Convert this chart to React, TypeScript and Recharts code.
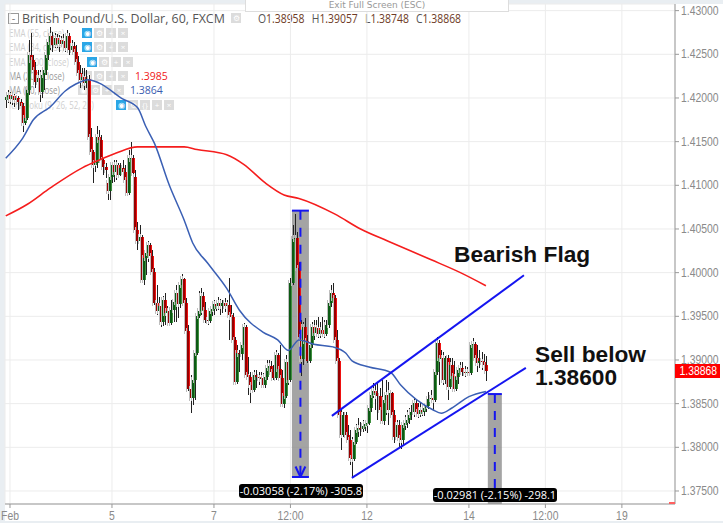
import { Bar, CartesianGrid, ComposedChart, Line, ReferenceArea, ReferenceLine, XAxis, YAxis } from 'recharts';

// hourly bars, first bar sits two hours before the "Feb" tick
const firstHour = -2;

const opens = [
  1.4198, 1.4201, 1.4203, 1.4199, 1.4202, 1.4198, 1.4200, 1.4195, 1.4191, 1.4171,
  1.4177, 1.4209, 1.4249, 1.4244, 1.4232, 1.4218, 1.4223, 1.4207, 1.4226, 1.4232,
  1.4249, 1.4264, 1.4271, 1.4261, 1.4269, 1.4262, 1.4266, 1.4262, 1.4265, 1.4257,
  1.4271, 1.4255, 1.4260, 1.4253, 1.4241, 1.4229, 1.4221, 1.4224, 1.4217, 1.4222,
  1.4155, 1.4138, 1.4123, 1.4126, 1.4155, 1.4152, 1.4129, 1.4121, 1.4103, 1.4094,
  1.4110, 1.4123, 1.4115, 1.4123, 1.4112, 1.4120, 1.4115, 1.4106, 1.4091, 1.4131,
  1.4131, 1.4110, 1.4049, 1.4036, 1.4041, 1.3992, 1.4017, 1.4023, 1.4032, 1.4019,
  1.4001, 1.3965, 1.3956, 1.3962, 1.3943, 1.3969, 1.3954, 1.3956, 1.3942, 1.3957,
  1.3966, 1.3977, 1.3964, 1.3986, 1.3993, 1.3965, 1.3933, 1.3867, 1.3856, 1.3877,
  1.3908, 1.3950, 1.3956, 1.3973, 1.3957, 1.3946, 1.3945, 1.3956, 1.3958, 1.3964,
  1.3962, 1.3965, 1.3962, 1.3965, 1.3962, 1.3963, 1.3951, 1.3949, 1.3923, 1.3875,
  1.3908, 1.3907, 1.3917, 1.3938, 1.3883, 1.3881, 1.3871, 1.3866, 1.3883, 1.3881,
  1.3879, 1.3879, 1.3871, 1.3881, 1.3891, 1.3893, 1.3886, 1.3879, 1.3906, 1.3890,
  1.3879, 1.3850, 1.3859, 1.3898, 1.3877, 1.3988, 1.4039, 1.4040, 1.4005, 1.3926,
  1.3901, 1.3938, 1.3922, 1.3899, 1.3917, 1.3938, 1.3931, 1.3937, 1.3930, 1.3934,
  1.3931, 1.3930, 1.3940, 1.3965, 1.3977, 1.3971, 1.3923, 1.3899, 1.3837, 1.3814,
  1.3837, 1.3814, 1.3808, 1.3788, 1.3787, 1.3806, 1.3820, 1.3822, 1.3821, 1.3824,
  1.3827, 1.3828, 1.3845, 1.3860, 1.3864, 1.3862, 1.3859, 1.3843, 1.3830, 1.3854,
  1.3860, 1.3843, 1.3862, 1.3837, 1.3812, 1.3826, 1.3811, 1.3808, 1.3826, 1.3828,
  1.3831, 1.3837, 1.3840, 1.3851, 1.3840, 1.3838, 1.3843, 1.3840, 1.3845, 1.3847,
  1.3855, 1.3856, 1.3854, 1.3886, 1.3919, 1.3902, 1.3902, 1.3877, 1.3902, 1.3869,
  1.3894, 1.3882, 1.3867, 1.3881, 1.3889, 1.3891, 1.3886, 1.3885, 1.3886, 1.3885,
  1.3917, 1.3918, 1.3902, 1.3897, 1.3899, 1.3898, 1.3894,
];

const closes = [
  1.4201, 1.4203, 1.4199, 1.4202, 1.4198, 1.4200, 1.4195, 1.4191, 1.4171, 1.4177,
  1.4209, 1.4249, 1.4244, 1.4232, 1.4218, 1.4223, 1.4207, 1.4226, 1.4232, 1.4249,
  1.4264, 1.4271, 1.4261, 1.4269, 1.4262, 1.4266, 1.4262, 1.4265, 1.4257, 1.4271,
  1.4255, 1.4260, 1.4253, 1.4241, 1.4229, 1.4221, 1.4224, 1.4217, 1.4222, 1.4155,
  1.4138, 1.4123, 1.4126, 1.4155, 1.4152, 1.4129, 1.4121, 1.4118, 1.4094, 1.4110,
  1.4123, 1.4115, 1.4123, 1.4112, 1.4120, 1.4115, 1.4106, 1.4091, 1.4131, 1.4131,
  1.4114, 1.4049, 1.4036, 1.4041, 1.3992, 1.4017, 1.4023, 1.4032, 1.4019, 1.4001,
  1.3965, 1.3956, 1.3962, 1.3943, 1.3969, 1.3954, 1.3956, 1.3942, 1.3957, 1.3966,
  1.3977, 1.3964, 1.3986, 1.3993, 1.3965, 1.3933, 1.3867, 1.3856, 1.3877, 1.3908,
  1.3950, 1.3956, 1.3973, 1.3957, 1.3946, 1.3945, 1.3956, 1.3958, 1.3964, 1.3962,
  1.3965, 1.3962, 1.3965, 1.3962, 1.3963, 1.3951, 1.3949, 1.3923, 1.3875, 1.3908,
  1.3907, 1.3917, 1.3938, 1.3883, 1.3881, 1.3871, 1.3866, 1.3883, 1.3881, 1.3879,
  1.3879, 1.3871, 1.3881, 1.3891, 1.3893, 1.3886, 1.3879, 1.3906, 1.3890, 1.3879,
  1.3850, 1.3859, 1.3898, 1.3877, 1.3988, 1.4039, 1.4040, 1.4005, 1.3926, 1.3901,
  1.3938, 1.3922, 1.3899, 1.3917, 1.3938, 1.3931, 1.3937, 1.3930, 1.3934, 1.3931,
  1.3930, 1.3940, 1.3965, 1.3977, 1.3971, 1.3923, 1.3899, 1.3837, 1.3814, 1.3837,
  1.3814, 1.3808, 1.3788, 1.3787, 1.3806, 1.3820, 1.3822, 1.3821, 1.3824, 1.3827,
  1.3828, 1.3845, 1.3860, 1.3864, 1.3862, 1.3859, 1.3843, 1.3830, 1.3854, 1.3860,
  1.3843, 1.3862, 1.3837, 1.3812, 1.3826, 1.3811, 1.3808, 1.3826, 1.3828, 1.3831,
  1.3837, 1.3840, 1.3851, 1.3840, 1.3838, 1.3843, 1.3840, 1.3845, 1.3847, 1.3855,
  1.3856, 1.3854, 1.3886, 1.3919, 1.3902, 1.3902, 1.3877, 1.3902, 1.3869, 1.3894,
  1.3882, 1.3867, 1.3881, 1.3889, 1.3891, 1.3886, 1.3885, 1.3886, 1.3885, 1.3917,
  1.3918, 1.3902, 1.3897, 1.3899, 1.3898, 1.3894, 1.3887,
];

const highs = [
  1.4205, 1.4209, 1.4207, 1.4206, 1.4205, 1.4203, 1.4202, 1.4199, 1.4194, 1.4184,
  1.4215, 1.4266, 1.4274, 1.4249, 1.4241, 1.4232, 1.4232, 1.4230, 1.4244, 1.4255,
  1.4269, 1.4281, 1.4276, 1.4274, 1.4273, 1.4272, 1.4271, 1.4273, 1.4270, 1.4278,
  1.4274, 1.4266, 1.4264, 1.4261, 1.4248, 1.4238, 1.4234, 1.4234, 1.4232, 1.4226,
  1.4166, 1.4140, 1.4135, 1.4168, 1.4163, 1.4158, 1.4131, 1.4126, 1.4112, 1.4118,
  1.4126, 1.4129, 1.4129, 1.4126, 1.4126, 1.4129, 1.4123, 1.4115, 1.4140, 1.4150,
  1.4135, 1.4118, 1.4058, 1.4055, 1.4043, 1.4026, 1.4032, 1.4036, 1.4034, 1.4026,
  1.4005, 1.3986, 1.3972, 1.3971, 1.3973, 1.3977, 1.3962, 1.3959, 1.3969, 1.3974,
  1.3986, 1.3985, 1.3992, 1.3999, 1.3994, 1.3971, 1.3940, 1.3883, 1.3888, 1.3914,
  1.3957, 1.3979, 1.3982, 1.3978, 1.3966, 1.3955, 1.3962, 1.3965, 1.3969, 1.3969,
  1.3972, 1.3970, 1.3969, 1.3971, 1.3969, 1.3994, 1.3963, 1.3954, 1.3926, 1.3917,
  1.3911, 1.3923, 1.3942, 1.3940, 1.3903, 1.3886, 1.3877, 1.3889, 1.3889, 1.3886,
  1.3886, 1.3885, 1.3889, 1.3900, 1.3900, 1.3899, 1.3894, 1.3911, 1.3908, 1.3917,
  1.3889, 1.3866, 1.3906, 1.3915, 1.3994, 1.4055, 1.4067, 1.4047, 1.4012, 1.3946,
  1.3943, 1.3948, 1.3929, 1.3923, 1.3943, 1.3946, 1.3946, 1.3949, 1.3943, 1.3949,
  1.3946, 1.3946, 1.3969, 1.3986, 1.3988, 1.3974, 1.3934, 1.3902, 1.3845, 1.3840,
  1.3840, 1.3826, 1.3820, 1.3812, 1.3814, 1.3827, 1.3834, 1.3829, 1.3831, 1.3831,
  1.3837, 1.3850, 1.3868, 1.3874, 1.3871, 1.3875, 1.3868, 1.3877, 1.3860, 1.3877,
  1.3875, 1.3866, 1.3863, 1.3843, 1.3831, 1.3831, 1.3826, 1.3831, 1.3837, 1.3843,
  1.3845, 1.3848, 1.3856, 1.3854, 1.3851, 1.3851, 1.3848, 1.3851, 1.3854, 1.3863,
  1.3866, 1.3875, 1.3894, 1.3926, 1.3923, 1.3911, 1.3909, 1.3905, 1.3906, 1.3902,
  1.3902, 1.3899, 1.3889, 1.3894, 1.3898, 1.3898, 1.3893, 1.3892, 1.3891, 1.3921,
  1.3925, 1.3921, 1.3917, 1.3911, 1.3909, 1.3907, 1.3905,
];

const lows = [
  1.4189, 1.4194, 1.4193, 1.4192, 1.4190, 1.4192, 1.4186, 1.4184, 1.4161, 1.4169,
  1.4175, 1.4203, 1.4238, 1.4226, 1.4211, 1.4207, 1.4195, 1.4200, 1.4209, 1.4226,
  1.4244, 1.4255, 1.4253, 1.4257, 1.4257, 1.4253, 1.4258, 1.4255, 1.4253, 1.4253,
  1.4249, 1.4249, 1.4244, 1.4232, 1.4223, 1.4211, 1.4215, 1.4209, 1.4211, 1.4152,
  1.4131, 1.4103, 1.4115, 1.4120, 1.4140, 1.4123, 1.4112, 1.4108, 1.4083, 1.4083,
  1.4103, 1.4104, 1.4106, 1.4108, 1.4111, 1.4110, 1.4104, 1.4088, 1.4089, 1.4112,
  1.4108, 1.4047, 1.4026, 1.4026, 1.3988, 1.3986, 1.3997, 1.4012, 1.4005, 1.3986,
  1.3963, 1.3952, 1.3943, 1.3938, 1.3939, 1.3940, 1.3948, 1.3940, 1.3940, 1.3943,
  1.3943, 1.3948, 1.3959, 1.3969, 1.3957, 1.3917, 1.3864, 1.3839, 1.3848, 1.3854,
  1.3906, 1.3948, 1.3951, 1.3948, 1.3942, 1.3940, 1.3942, 1.3950, 1.3951, 1.3956,
  1.3957, 1.3951, 1.3954, 1.3955, 1.3957, 1.3923, 1.3940, 1.3921, 1.3874, 1.3872,
  1.3886, 1.3900, 1.3883, 1.3879, 1.3860, 1.3851, 1.3862, 1.3863, 1.3868, 1.3871,
  1.3869, 1.3868, 1.3868, 1.3877, 1.3884, 1.3882, 1.3877, 1.3877, 1.3877, 1.3874,
  1.3847, 1.3845, 1.3856, 1.3871, 1.3875, 1.3986, 1.4026, 1.3997, 1.3923, 1.3882,
  1.3894, 1.3911, 1.3897, 1.3897, 1.3914, 1.3923, 1.3926, 1.3925, 1.3925, 1.3927,
  1.3925, 1.3927, 1.3937, 1.3961, 1.3965, 1.3917, 1.3897, 1.3835, 1.3797, 1.3812,
  1.3812, 1.3791, 1.3780, 1.3765, 1.3784, 1.3804, 1.3812, 1.3813, 1.3817, 1.3819,
  1.3816, 1.3826, 1.3840, 1.3856, 1.3843, 1.3831, 1.3836, 1.3827, 1.3826, 1.3837,
  1.3826, 1.3839, 1.3826, 1.3805, 1.3807, 1.3799, 1.3798, 1.3803, 1.3820, 1.3822,
  1.3827, 1.3831, 1.3835, 1.3836, 1.3834, 1.3835, 1.3836, 1.3836, 1.3840, 1.3844,
  1.3852, 1.3842, 1.3852, 1.3883, 1.3871, 1.3889, 1.3871, 1.3872, 1.3854, 1.3867,
  1.3868, 1.3864, 1.3864, 1.3872, 1.3883, 1.3882, 1.3880, 1.3882, 1.3882, 1.3883,
  1.3911, 1.3897, 1.3886, 1.3891, 1.3889, 1.3886, 1.3876,
];

const ma200Hours = [-2, 8, 19, 34, 42, 50, 60, 82, 88, 102, 110, 120, 129, 136, 153, 165, 178, 198, 212, 224];
const ma200Values = [1.4065, 1.4078, 1.4097, 1.4120, 1.4129, 1.4137, 1.4144, 1.4144, 1.4141, 1.4135, 1.4124, 1.4103, 1.4089, 1.4085, 1.4067, 1.4050, 1.4036, 1.4015, 1.4000, 1.3985];

const ma50Hours = [-2, 6, 11, 19, 26, 31, 37, 42, 53, 60, 64, 68, 75, 82, 86, 93, 102, 108, 119, 126, 131, 136, 143, 152, 158, 161, 169, 179, 184, 199, 203, 208, 216, 224];
const ma50Values = [1.4131, 1.4154, 1.4175, 1.4190, 1.4208, 1.4216, 1.4221, 1.4217, 1.4199, 1.4189, 1.4167, 1.4148, 1.4100, 1.4060, 1.4034, 1.4011, 1.3982, 1.3957, 1.3932, 1.3923, 1.3911, 1.3923, 1.3918, 1.3915, 1.3908, 1.3899, 1.3892, 1.3886, 1.3871, 1.3843, 1.3839, 1.3845, 1.3858, 1.3864];

const priceTicks = [1.375, 1.38, 1.385, 1.39, 1.395, 1.4, 1.405, 1.41, 1.415, 1.42, 1.425, 1.43];
const timeTicks = [0, 48, 96, 132, 168, 216, 252, 288];
const timeLabels = ['Feb', '5', '7', '12:00', '12', '14', '12:00', '19'];

const legendRows = ['EMA (55, close)', 'EMA (34, close)', 'EMA (200, close)', 'MA (200, close)', 'MA (50, close)', 'Ichimoku (9, 26, 52, 26)'];
const legendValues = ['', '', '', '1.3985', '1.3864', ''];
const ohlcNames = ['O', 'H', 'L', 'C'];
const ohlcValues = ['1.38958', '1.39057', '1.38748', '1.38868'];

const bars = closes.map((close, i) => ({ hour: firstHour + i, open: opens[i], close, high: highs[i], low: lows[i] }));
const ma200 = ma200Hours.map((hour, i) => ({ hour, value: ma200Values[i] }));
const ma50 = ma50Hours.map((hour, i) => ({ hour, value: ma50Values[i] }));

const fontFamily = '"Liberation Sans", Arial, sans-serif';
const flagBlue = '#1515f0';
// where each legend row starts its buttons and its value
const rowButtonX = [82, 82, 87, 82, 78, 116];
const rowValueX = [0, 0, 0, 135, 130, 0];

function Candle(props: any) {
  const { x, y, width, height, payload } = props;
  const top = Math.min(y, y + height);
  const perUnit = Math.abs(height) / (payload.high - payload.low);
  const up = payload.close >= payload.open;
  const bodyTop = top + (payload.high - Math.max(payload.open, payload.close)) * perUnit;
  const bodyH = Math.max(1, Math.abs(payload.close - payload.open) * perUnit);
  const mid = Math.round(x + width / 2);
  return (
    <g shapeRendering="crispEdges">
      <rect x={mid - 2} y={bodyTop - 3} width={1} height={bodyH + 6} fill="#bdbdbd" />
      <rect x={mid} y={top} width={1} height={Math.abs(height)} fill="#222" />
      <rect x={mid - 1} y={bodyTop} width={2} height={bodyH} fill={up ? '#0c5a14' : '#980000'} />
      <rect x={mid + 1} y={bodyTop} width={1} height={bodyH} fill={up ? '#3f8f3f' : '#ee1010'} />
    </g>
  );
}

// the screenshot is squeezed sideways, so tick text is too
function SqueezedTick({ x, y, payload, anchor, dy, format }: any) {
  return (
    <text
      transform={`translate(${x},${y + dy}) scale(0.8,1)`}
      textAnchor={anchor}
      fontSize={13}
      fill="#8a8a8a"
      fontFamily={fontFamily}
    >
      {format(payload.value)}
    </text>
  );
}

function Btn({ kind, on, left }: { kind: string; on?: boolean; left: number }) {
  return (
    <span style={{
      position: 'absolute', left, top: 2, width: 10, height: 10, lineHeight: '10px', textAlign: 'center',
      fontSize: 8, color: '#fff', background: on ? '#2ba6e6' : '#dcdcdc',
    }}>{kind}</span>
  );
}

function Legend() {
  return (
    <div style={{ position: 'absolute', left: 0, top: 0, width: 723, height: 120, fontFamily: '"Open Sans", sans-serif' }}>
      <div style={{ position: 'absolute', left: 8, top: 13, width: 9, height: 9, border: '1px solid #999', lineHeight: '7px', fontSize: 11, textAlign: 'center', color: '#777' }}>-</div>
      <div style={{ position: 'absolute', left: 22, top: 9, fontSize: 13, color: '#555', whiteSpace: 'nowrap', transform: 'scaleX(0.955)', transformOrigin: 'left' }}>British Pound/U.S. Dollar, 60, FXCM</div>
      <div style={{ position: 'absolute', left: 0, top: 11 }}><Btn kind="⚙" left={231} /></div>
      <div style={{ position: 'absolute', left: 258, top: 9, fontSize: 13, color: '#6e3b26', whiteSpace: 'nowrap', transform: 'scaleX(0.8)', transformOrigin: 'left' }}>
        {ohlcNames.map((name, i) => (
          <span key={name} style={{ marginRight: 9 }}><span style={{ color: '#555' }}>{name}</span>{ohlcValues[i]}</span>
        ))}
      </div>
      {legendRows.map((row, i) => {
        const bx = rowButtonX[i];
        const kinds = i === 5 ? ['◉', '⚙', '{}', '+', '×'] : ['◉', '⚙', '+', '×'];
        return (
          <div key={row} style={{ position: 'absolute', left: 0, top: 26 + i * 14.3, height: 14, lineHeight: '14px', fontSize: 11 }}>
            <span style={{ position: 'absolute', left: 9, whiteSpace: 'nowrap', color: i === 3 || i === 4 ? '#999' : '#cfcfcf', transform: 'scaleX(0.72)', transformOrigin: 'left' }}>{row}</span>
            {kinds.map((kind, k) => (
              <Btn key={kind} kind={kind} left={bx + k * 12} on={k === 0 && (i < 3 || i === 5)} />
            ))}
            {legendValues[i] && (
              <span style={{ position: 'absolute', left: rowValueX[i], whiteSpace: 'nowrap', fontSize: 10.5, color: i === 3 ? '#f02020' : '#3a5cb0' }}>{legendValues[i]}</span>
            )}
          </div>
        );
      })}
    </div>
  );
}

function Measure({ left, top, text }: { left: number; top: number; text: string }) {
  return (
    <div style={{
      position: 'absolute', left, top, width: 124, height: 14, lineHeight: '14px', background: '#000', color: '#fff', borderRadius: 3,
      textAlign: 'center', fontSize: 11, fontFamily: '"Open Sans", sans-serif', whiteSpace: 'nowrap',
    }}>{text}</div>
  );
}

const noteStyle = { position: 'absolute', fontFamily, fontWeight: 700, fontSize: 22.7, color: '#111', whiteSpace: 'nowrap', lineHeight: '24px' } as const;

export default function App() {
  return (
    <div style={{ position: 'fixed', left: 0, top: 0, width: 723, height: 523, background: '#fff', overflow: 'hidden' }}>
      <div style={{ position: 'absolute', left: 0, top: 0, width: 723, height: 4, background: '#e9eef2' }} />
      <div style={{ position: 'absolute', left: 0, top: 0, width: 5, height: 523, background: '#e9eef2' }} />
      <div style={{ position: 'absolute', left: 0, top: 521, width: 723, height: 2, background: '#e9eef2' }} />
      <Legend />
      <div style={{ position: 'absolute', left: 0, top: 0 }}>
        <ComposedChart width={723} height={523} data={bars} margin={{ top: 4, right: 0, bottom: 0, left: 5 }}>
          <CartesianGrid stroke="#ececec" strokeWidth={1} />
          <XAxis
            dataKey="hour"
            type="number"
            domain={[-2.35, 313]}
            ticks={timeTicks}
            tick={<SqueezedTick anchor="middle" dy={10} format={(v: number) => timeLabels[timeTicks.indexOf(v)]} />}
            tickSize={4}
            stroke="#999"
            height={19}
            interval={0}
            allowDataOverflow
          />
          <YAxis
            orientation="right"
            type="number"
            domain={[1.37351, 1.43076]}
            ticks={priceTicks}
            tick={<SqueezedTick anchor="start" dy={4} format={(v: number) => v.toFixed(5)} />}
            tickSize={4}
            stroke="#999"
            width={48}
            interval={0}
            allowDataOverflow
          />
          <Bar dataKey={(d: any) => [d.low, d.high]} barSize={2} shape={Candle} isAnimationActive={false} />
          <Line data={ma200} dataKey="value" type="monotone" stroke="#f51d1d" strokeWidth={1.6} dot={false} isAnimationActive={false} />
          <Line data={ma50} dataKey="value" type="monotone" stroke="#3a5fb4" strokeWidth={1.5} dot={false} isAnimationActive={false} />

          <ReferenceArea x1={132.7} x2={140.7} y1={1.3766} y2={1.4071} fill="#858585" fillOpacity={0.75} stroke="none" />
          <ReferenceLine segment={[{ x: 132.7, y: 1.4071 }, { x: 140.7, y: 1.4071 }]} stroke={flagBlue} strokeWidth={2} />
          <ReferenceLine segment={[{ x: 132.7, y: 1.3766 }, { x: 140.7, y: 1.3766 }]} stroke={flagBlue} strokeWidth={2} />
          <ReferenceLine segment={[{ x: 136.7, y: 1.4071 }, { x: 136.7, y: 1.3766 }]} stroke={flagBlue} strokeWidth={2} strokeDasharray="9 8" />
          <ReferenceLine segment={[{ x: 136.7, y: 1.3766 }, { x: 134.4, y: 1.3778 }]} stroke={flagBlue} strokeWidth={2} />
          <ReferenceLine segment={[{ x: 136.7, y: 1.3766 }, { x: 139, y: 1.3778 }]} stroke={flagBlue} strokeWidth={2} />

          <ReferenceArea x1={224.9} x2={231.5} y1={1.37351} y2={1.3861} fill="#858585" fillOpacity={0.75} stroke="none" />
          <ReferenceLine segment={[{ x: 224.9, y: 1.3861 }, { x: 231.5, y: 1.3861 }]} stroke={flagBlue} strokeWidth={2} />
          <ReferenceLine segment={[{ x: 228.2, y: 1.3861 }, { x: 228.2, y: 1.3745 }]} stroke={flagBlue} strokeWidth={2} strokeDasharray="9 8" />

          <ReferenceLine segment={[{ x: 151.5, y: 1.3836 }, { x: 241.9, y: 1.3997 }]} stroke={flagBlue} strokeWidth={2} />
          <ReferenceLine segment={[{ x: 160.9, y: 1.3765 }, { x: 242.8, y: 1.3891 }]} stroke={flagBlue} strokeWidth={2} />
        </ComposedChart>
      </div>

      <div style={{ position: 'absolute', left: 245, top: 0, width: 262, height: 11, lineHeight: '11px', background: '#fff', border: '1px solid #ddd', borderTop: 'none', textAlign: 'center', fontSize: 9, color: '#999', fontFamily: '"DejaVu Sans", sans-serif' }}>
        Exit Full Screen (ESC)
      </div>
      <div style={{ ...noteStyle, left: 454, top: 242 }}>Bearish Flag</div>
      <div style={{ ...noteStyle, left: 535, top: 342 }}>Sell below</div>
      <div style={{ ...noteStyle, left: 535, top: 365 }}>1.38600</div>
      <Measure left={239} top={484} text="-0.03058 (-2.17%) -305.8" />
      <Measure left={433} top={488} text="-0.02981 (-2.15%) -298.1" />
      <div style={{ position: 'absolute', left: 669, top: 502, width: 6, height: 2, background: '#ff6060' }} />
      <div style={{ position: 'absolute', left: 675, top: 364, width: 45, height: 14, background: '#ff0000' }}>
        <div style={{ lineHeight: '14px', color: '#fff', fontSize: 13, textAlign: 'center', fontFamily, transform: 'scaleX(0.8)' }}>1.38868</div>
      </div>
    </div>
  );
}
